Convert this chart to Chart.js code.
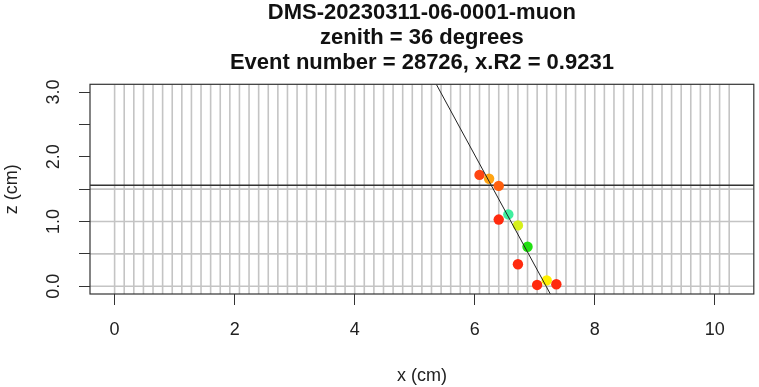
<!DOCTYPE html>
<html>
<head>
<meta charset="utf-8">
<script src="https://cdn.jsdelivr.net/npm/chart.js@4.4.1/dist/chart.umd.min.js"></script>
<style>
  html, body { margin: 0; padding: 0; background: #fff; }
  #wrap { width: 759px; height: 387px; }
</style>
</head>
<body>
<div id="wrap"><canvas id="muon" width="759" height="387"></canvas></div>
<script>
// hits (x = strip position, z = height)
var hitX = [6.08, 6.24, 6.40, 6.56, 6.40, 6.72, 6.88, 6.72, 7.20, 7.04, 7.36];
var hitZ = [1.72, 1.66, 1.55, 1.11, 1.03, 0.94, 0.61, 0.34, 0.09, 0.02, 0.03];
var hitColors = ['#ff4512', '#ffa412', '#ff5f0e', '#40efa0', '#ff2a0e', '#d6f01a',
                 '#22e012', '#ff2a0e', '#fff000', '#ff2a0e', '#ff2a0e'];

// fitted track, end points at the edges of the z range
var fitX = [5.36, 7.26];
var fitZ = [3.12, -0.12];

var xTicks = [0, 2, 4, 6, 8, 10];
var zTicks = [0, 0.5, 1, 1.5, 2, 2.5, 3];
var zTickLabels = ['0.0', '', '1.0', '', '2.0', '', '3.0'];

// detector geometry
var layerZ = [0, 0.5, 1.0, 1.5];
var boundaryZ = 1.56;
var stripPitch = 0.16;
var stripCount = 64;

var fontFam = "'Liberation Sans', Arial, Helvetica, sans-serif";
Chart.defaults.font.family = fontFam;

var puntos = hitX.map(function (x, i) { return { x: x, y: hitZ[i] }; });
var linea = fitX.map(function (x, i) { return { x: x, y: fitZ[i] }; });

var detector = {
    id: 'detector',
    beforeDatasetsDraw: function (chart) {
        var ctx = chart.ctx, a = chart.chartArea;
        var sx = chart.scales.x, sy = chart.scales.y;
        ctx.save();
        ctx.beginPath();
        ctx.rect(a.left, a.top, a.right - a.left, a.bottom - a.top);
        ctx.clip();
        ctx.strokeStyle = '#c4c4c4';
        ctx.lineWidth = 1.6;
        for (var i = 0; i <= stripCount; i++) {
            var px = sx.getPixelForValue(i * stripPitch);
            ctx.beginPath();
            ctx.moveTo(px, a.top);
            ctx.lineTo(px, a.bottom);
            ctx.stroke();
        }
        layerZ.forEach(function (z) {
            var py = sy.getPixelForValue(z);
            ctx.beginPath();
            ctx.moveTo(a.left, py);
            ctx.lineTo(a.right, py);
            ctx.stroke();
        });
        ctx.strokeStyle = '#333';
        ctx.lineWidth = 1.5;
        var by = sy.getPixelForValue(boundaryZ);
        ctx.beginPath();
        ctx.moveTo(a.left, by);
        ctx.lineTo(a.right, by);
        ctx.stroke();
        ctx.restore();
    },
    afterDraw: function (chart) {
        var ctx = chart.ctx, a = chart.chartArea, sy = chart.scales.y;
        ctx.save();
        ctx.strokeStyle = '#333';
        ctx.lineWidth = 1.2;
        ctx.strokeRect(a.left, a.top, a.right - a.left, a.bottom - a.top);
        // y tick labels, rotated like R does
        ctx.fillStyle = '#222';
        ctx.font = '18px ' + fontFam;
        ctx.textAlign = 'center';
        ctx.textBaseline = 'alphabetic';
        zTicks.forEach(function (z, i) {
            if (!zTickLabels[i]) return;
            ctx.save();
            ctx.translate(58.5, sy.getPixelForValue(z));
            ctx.rotate(-Math.PI / 2);
            ctx.fillText(zTickLabels[i], 0, 0);
            ctx.restore();
        });
        ctx.restore();
    }
};

new Chart(document.getElementById('muon'), {
    type: 'scatter',
    data: {
        datasets: [{
            data: linea,
            showLine: true,
            borderColor: '#222',
            borderWidth: 1,
            pointRadius: 0,
            order: 0
        }, {
            data: puntos,
            backgroundColor: hitColors,
            pointBackgroundColor: hitColors,
            pointBorderWidth: 0,
            pointRadius: 5.2,
            order: 1
        }]
    },
    options: {
        responsive: false,
        animation: false,
        layout: { padding: { left: 0, right: 3, top: 0, bottom: 0 } },
        plugins: {
            legend: { display: false },
            tooltip: { enabled: false },
            title: {
                display: true,
                fullSize: false,
                text: ['DMS-20230311-06-0001-muon', 'zenith = 36 degrees', 'Event number = 28726, x.R2 = 0.9231'],
                color: '#111',
                font: { size: 22, weight: 'bold', lineHeight: 1.15 },
                padding: { top: 0, bottom: 8.4 }
            }
        },
        scales: {
            x: {
                type: 'linear',
                min: -0.41,
                max: 10.65,
                afterBuildTicks: function (s) { s.ticks = xTicks.map(function (v) { return { value: v }; }); },
                afterFit: function (s) { s.height = 93; },
                grid: { drawOnChartArea: false, drawTicks: true, tickLength: 11, color: '#333', lineWidth: 1 },
                border: { display: false },
                ticks: { color: '#222', font: { size: 18 }, padding: 14, maxRotation: 0 },
                title: { display: true, text: 'x (cm)', color: '#222', font: { size: 18 }, padding: 0 }
            },
            y: {
                type: 'linear',
                min: -0.12,
                max: 3.12,
                afterBuildTicks: function (s) { s.ticks = zTicks.map(function (v) { return { value: v }; }); },
                afterFit: function (s) { s.width = 90; },
                grid: { drawOnChartArea: false, drawTicks: true, tickLength: 11, color: '#333', lineWidth: 1 },
                border: { display: false },
                ticks: { display: false },
                title: { display: true, text: 'z (cm)', color: '#222', font: { size: 18 }, padding: { top: 1, bottom: 0 } }
            }
        }
    },
    plugins: [detector]
});
</script>
</body>
</html>
